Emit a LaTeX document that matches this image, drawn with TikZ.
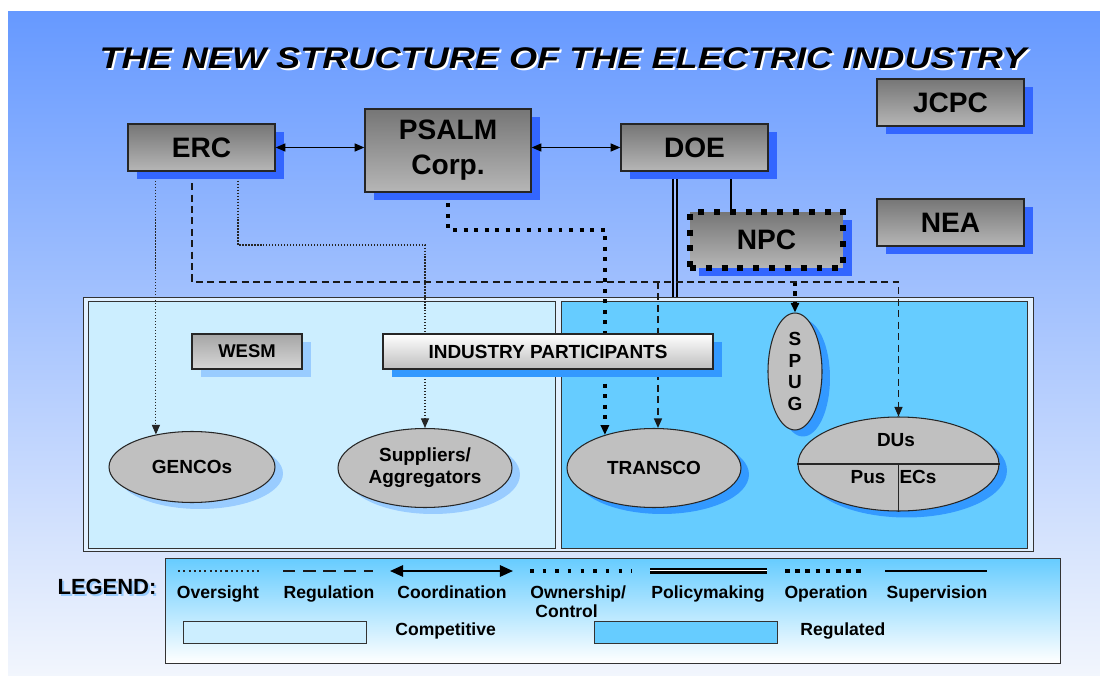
\documentclass[tikz,border=0pt]{standalone}
\usepackage{fontspec}
\setmainfont{Liberation Sans}
\setsansfont{Liberation Sans}
\usepackage{tikz}
\usetikzlibrary{shapes.geometric,arrows.meta,shadows,calc}
\usepackage{xcolor}
\definecolor{bgtop}{RGB}{102,153,255}
\definecolor{bgbot}{RGB}{242,246,253}
\definecolor{boxtop}{RGB}{118,118,118}
\definecolor{boxbot}{RGB}{182,182,182}
\definecolor{shadeblue}{RGB}{51,102,255}
\definecolor{paleshade}{RGB}{153,204,255}
\definecolor{regshade}{RGB}{51,153,255}
\definecolor{competitive}{RGB}{204,238,255}
\definecolor{regulated}{RGB}{102,204,255}
\definecolor{framegap}{RGB}{225,240,255}
\definecolor{ellgray}{RGB}{192,192,192}
\definecolor{wesmtop}{RGB}{165,165,165}
\definecolor{wesmbot}{RGB}{215,215,215}
\definecolor{partbot}{RGB}{190,190,190}
\definecolor{policygap}{RGB}{160,190,255}

\pgfdeclarelayer{bg}
\pgfdeclarelayer{links}
\pgfsetlayers{bg,links,main}

\begin{document}
\begin{tikzpicture}[x=0.02cm, y=-0.02cm,
  >={Triangle[length=5.5pt,width=4.6pt]},
  govbox/.style={draw=black!85, line width=0.8pt, top color=boxtop, bottom color=boxbot,
    minimum width=2.94cm, minimum height=0.94cm, inner sep=0pt, align=center,
    font=\bfseries\fontsize{16}{20}\selectfont,
    drop shadow={shadow xshift=0.18cm, shadow yshift=-0.16cm, fill=shadeblue, opacity=1}},
  npcbox/.style={govbox, draw=black, line width=3.4pt, dash pattern=on 3.4pt off 5.6pt,
    minimum width=3.06cm, minimum height=1.12cm},
  wesmbox/.style={draw=black!85, line width=0.7pt, top color=wesmtop, bottom color=wesmbot,
    minimum width=2.2cm, minimum height=0.7cm, inner sep=0pt,
    font=\bfseries\fontsize{10.5}{12}\selectfont,
    drop shadow={shadow xshift=0.18cm, shadow yshift=-0.16cm, fill=paleshade, opacity=1}},
  partbox/.style={draw=black!85, line width=0.7pt, top color=white, bottom color=partbot,
    minimum width=6.6cm, minimum height=0.7cm, inner sep=0pt,
    font=\bfseries\fontsize{10.8}{12}\selectfont,
    drop shadow={shadow xshift=0.18cm, shadow yshift=-0.16cm, fill=regshade, opacity=1}},
  ellbase/.style={ellipse, draw=black!85, line width=0.6pt, fill=ellgray, inner sep=0pt,
    align=center, font=\bfseries\fontsize{10.8}{12.4}\selectfont},
  market/.style={ellbase,
    drop shadow={shadow xshift=0.16cm, shadow yshift=-0.13cm, fill=paleshade, opacity=1}},
  regmarket/.style={ellbase,
    drop shadow={shadow xshift=0.16cm, shadow yshift=-0.13cm, fill=regshade, opacity=1}},
  ellfont/.style={inner sep=0pt, font=\bfseries\fontsize{10.8}{12.4}\selectfont},
  legtext/.style={inner sep=0pt, anchor=base, font=\bfseries\fontsize{10}{11}\selectfont},
  oversightline/.style={black!85, line width=0.6pt, dash pattern=on 0.7pt off 1pt},
  regulationline/.style={black!90, line width=0.8pt, dash pattern=on 4pt off 2.5pt},
  coordline/.style={<->, black, line width=0.6pt},
  ownline/.style={black, line width=2.2pt, dash pattern=on 2.2pt off 3.8pt},
  policyline/.style={black, double=policygap, line width=0.9pt, double distance=1.5pt},
  operline/.style={black, line width=2.6pt, dash pattern=on 2.6pt off 3.2pt},
  superline/.style={black, line width=0.8pt}]
\useasboundingbox (0,0) rectangle (1100,676);

% backdrop, market regions and legend frame
\begin{pgfonlayer}{bg}
\fill[top color=bgtop, bottom color=bgbot] (8,11) rectangle (1100,676);
\draw[black!80, fill=framegap] (83,297) rectangle (1033,551);
\draw[black!80, fill=competitive] (88,301) rectangle (555,548);
\draw[black!80, fill=regulated] (561,301) rectangle (1027,548);
\draw[black!80, top color=regulated, bottom color=white] (165,558) rectangle (1060,663);
\end{pgfonlayer}

% Title
\node[white, font=\bfseries\itshape\fontsize{17}{20}\selectfont, xscale=1.21] (titleshade) at (565,60)
  {THE NEW STRUCTURE OF THE ELECTRIC INDUSTRY};
\node[font=\bfseries\itshape\fontsize{17}{20}\selectfont, xscale=1.21] (title) at (563,58)
  {THE NEW STRUCTURE OF THE ELECTRIC INDUSTRY};

% Government bodies
\node[govbox] (erc) at (201.5,147.5) {ERC};
\node[govbox, minimum width=3.32cm, minimum height=1.66cm] (psalm) at (448,150.5) {PSALM\\Corp.};
\node[govbox] (doe) at (694.5,147.5) {DOE};
\node[govbox] (jcpc) at (950.5,102.5) {JCPC};
\node[govbox] (nea) at (950.5,222.5) {NEA};
\node[npcbox] (npc) at (766.5,240) {NPC};

% Market and participants
\node[wesmbox] (wesm) at (247,351.5) {WESM};
\node[partbox] (participants) at (548,351.5) {INDUSTRY PARTICIPANTS};

\node[market, minimum width=3.32cm, minimum height=1.42cm] (gencos) at (192,467) {GENCOs};
\node[market, minimum width=3.48cm, minimum height=1.58cm] (suppliers) at (425,468) {Suppliers/\\Aggregators};
\node[regmarket, minimum width=3.48cm, minimum height=1.58cm] (transco) at (654,468) {TRANSCO};
\node[regmarket, minimum width=1.08cm, minimum height=2.34cm] (spug) at (795,371.5) {S\\P\\U\\G};
\node[regmarket, minimum width=4.02cm, minimum height=1.88cm] (dus) at (898.5,464) {};
\draw[black!85, line width=0.6pt] (dus.west) -- (dus.east) (dus.center) -- (dus.south);
\node[ellfont] (dulabel) at (896,440) {DUs};
\node[ellfont] (pulabel) at (868,477) {Pus};
\node[ellfont] (eclabel) at (918,477) {ECs};

% Coordination (over the shadows)
\draw[coordline] (erc.east) -- (erc.east -| psalm.west);
\draw[coordline] (doe.west -| psalm.east) -- (doe.west);

% Links between bodies
\begin{pgfonlayer}{links}
\coordinate (policyfoot) at (675,297);
\draw[policyline] (doe.south -| policyfoot) -- (policyfoot);
\coordinate (supx) at (731,0);
\draw[superline] (doe.south -| supx) -- (npc.north -| supx);
\draw[operline, ->] (npc.south -| spug.north) -- (spug.north);
\draw[ownline, ->] (psalm.south) -- ++(0,37) -| (transco.146);
\draw[oversightline, ->] (erc.south -| gencos.138) -- (gencos.138);
\coordinate (ovbend) at (238,245);
\draw[oversightline, ->] (erc.south -| ovbend) -- (ovbend) -| (suppliers.north);
\coordinate (regbend) at (192,282);
\coordinate (regdrop) at (658,282);
\draw[regulationline, ->] (erc.south -| regbend) -- (regbend) -| (dus.north);
\draw[regulationline, ->] (regdrop) -- (transco.north -| regdrop);
\end{pgfonlayer}

% Legend
\node[paleshade, font=\bfseries\fontsize{12.5}{14}\selectfont] (legendshade) at (109,589) {LEGEND:};
\node[font=\bfseries\fontsize{12.5}{14}\selectfont] (legend) at (107,587) {LEGEND:};

\draw[oversightline, line width=0.9pt, dash pattern=on 1.2pt off 1.8pt] (178,571) -- (260,571);
\draw[regulationline, line width=1.1pt, dash pattern=on 7pt off 4.5pt] (283,571) -- (373,571);
\draw[>={Triangle[length=7.5pt,width=6.5pt]}, coordline, line width=1.1pt] (390,571) -- (513,571);
\draw[ownline, line width=2pt, dash pattern=on 2pt off 5.2pt] (530,571) -- (632,571);
\draw[policyline, double=white, line width=0.9pt, double distance=1.4pt] (650,571) -- (767,571);
\draw[black, line width=0.5pt] (650,571) -- (767,571);
\draw[operline] (785,571) -- (865,571);
\draw[superline, line width=1.1pt] (885,571) -- (987,571);

\foreach \xc/\txt in {218/Oversight, 329/Regulation, 452/Coordination,
                      708/Policymaking, 826/Operation, 937/Supervision}
  \node[legtext] (leg-\txt) at (\xc,598) {\txt};
\node[legtext, anchor=base west] (legown) at (530,598) {Ownership/};
\node[legtext, anchor=base west] (legctrl) at (535,617) {Control};

\draw[black!80, fill=competitive] (183,621) rectangle (366,643);
\node[legtext, anchor=base west] (legcomp) at (395,635) {Competitive};
\draw[black!80, fill=regulated] (594,621) rectangle (777,643);
\node[legtext, anchor=base west] (legreg) at (800,635) {Regulated};
\end{tikzpicture}
\end{document}
